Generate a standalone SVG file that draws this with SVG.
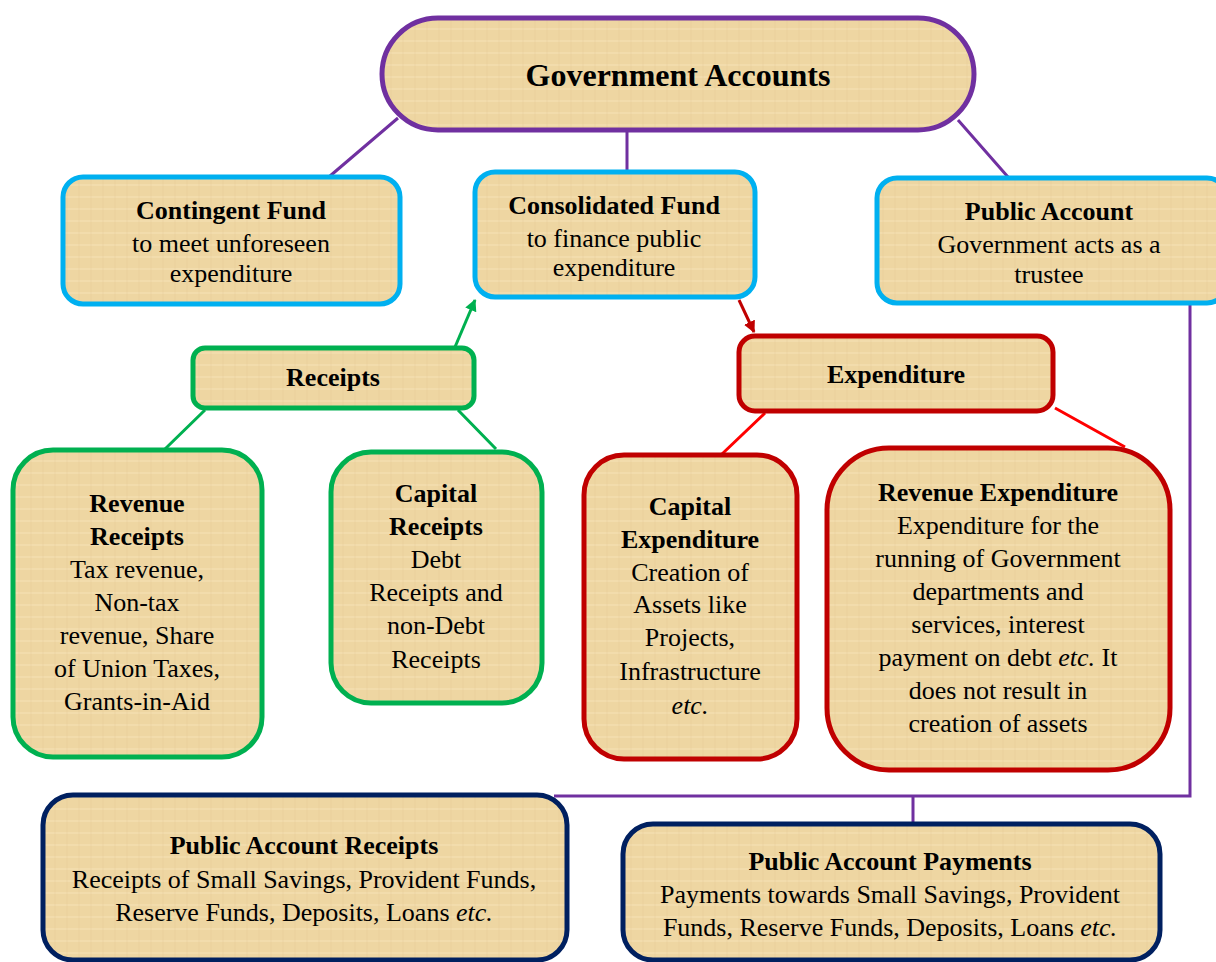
<svg xmlns="http://www.w3.org/2000/svg" width="1216" height="962" viewBox="0 0 1216 962">
<style>
svg g text, svg g tspan{font-family:'Liberation Serif',serif}
text{font-size:26px;text-anchor:middle}
.box{fill:url(#pap);stroke-width:5}
.pu{stroke:#7030A0}.bl{stroke:#00B0F0}.gr{stroke:#00B050}.rd{stroke:#C00000}.nv{stroke:#002060}
.b{font-weight:bold}
.t{font-size:32px;font-weight:bold}
.c{fill:none;stroke-width:3}
</style>
<defs>
<pattern id="pap" width="24" height="24" patternUnits="userSpaceOnUse">
<rect width="24" height="24" fill="#EED6A2"/>
<path d="M0 5H24M0 17H24" stroke="#F5E2B6" stroke-width="2" opacity="0.5"/>
<path d="M7 0V24M19 0V24" stroke="#DFC48D" stroke-width="1" opacity="0.3"/>
</pattern>
<marker id="agreen" viewBox="0 0 10 10" refX="9" refY="5" markerWidth="4" markerHeight="4" orient="auto" markerUnits="strokeWidth"><path d="M0 0L10 5L0 10Z" fill="#00B050"/></marker>
<marker id="ared" viewBox="0 0 10 10" refX="9" refY="5" markerWidth="4" markerHeight="4" orient="auto" markerUnits="strokeWidth"><path d="M0 0L10 5L0 10Z" fill="#C00000"/></marker>
</defs>
<g id="connectors">
<path class="c pu" d="M398 118L330 176M627 131V171M958 120L1008 177"/>
<path class="c pu" d="M1190 303V796H554M913 796V823"/>
<path class="c" stroke="#00B050" d="M455 347L475 300" marker-end="url(#agreen)"/>
<path class="c" stroke="#C00000" d="M739 300L754 332" marker-end="url(#ared)"/>
<path class="c" stroke="#00B050" d="M165 449L205 410M458 410L496 449"/>
<path class="c" stroke="#FF0000" d="M765 413L722 454M1055 408L1125 447"/>
</g>
<g id="government-accounts">
<rect class="box pu" x="382" y="18" width="592" height="112" rx="56" stroke-width="7"/>
<text style="font-family:'Liberation Serif'" class="t" x="678" y="86">Government Accounts</text>
</g>
<g id="contingent-fund">
<rect class="box bl" x="63" y="177" width="337" height="127" rx="20"/>
<text style="font-family:'Liberation Serif'" class="b" x="231" y="219">Contingent Fund</text>
<text style="font-family:'Liberation Serif'" x="231" y="252">to meet unforeseen</text>
<text style="font-family:'Liberation Serif'" x="231" y="282">expenditure</text>
</g>
<g id="consolidated-fund">
<rect class="box bl" x="475" y="172" width="280" height="125" rx="20"/>
<text style="font-family:'Liberation Serif'" class="b" x="614" y="214">Consolidated Fund</text>
<text style="font-family:'Liberation Serif'" x="614" y="247">to finance public</text>
<text style="font-family:'Liberation Serif'" x="614" y="276">expenditure</text>
</g>
<g id="public-account">
<rect class="box bl" x="877" y="178" width="350" height="125" rx="20"/>
<text style="font-family:'Liberation Serif'" class="b" x="1049" y="220">Public Account</text>
<text style="font-family:'Liberation Serif'" x="1049" y="253">Government acts as a</text>
<text style="font-family:'Liberation Serif'" x="1049" y="283">trustee</text>
</g>
<g id="receipts">
<rect class="box gr" x="193" y="348" width="281" height="60" rx="12"/>
<text style="font-family:'Liberation Serif'" class="b" x="333" y="386">Receipts</text>
</g>
<g id="expenditure">
<rect class="box rd" x="739" y="336" width="314" height="75" rx="16"/>
<text style="font-family:'Liberation Serif'" class="b" x="896" y="383">Expenditure</text>
</g>
<g id="revenue-receipts">
<rect class="box gr" x="13" y="450" width="249" height="307" rx="40"/>
<text style="font-family:'Liberation Serif'" class="b" x="137" y="512">Revenue</text>
<text style="font-family:'Liberation Serif'" class="b" x="137" y="545">Receipts</text>
<text style="font-family:'Liberation Serif'" x="137" y="578">Tax revenue,</text>
<text style="font-family:'Liberation Serif'" x="137" y="611">Non-tax</text>
<text style="font-family:'Liberation Serif'" x="137" y="644">revenue, Share</text>
<text style="font-family:'Liberation Serif'" x="137" y="677">of Union Taxes,</text>
<text style="font-family:'Liberation Serif'" x="137" y="710">Grants-in-Aid</text>
</g>
<g id="capital-receipts">
<rect class="box gr" x="331" y="452" width="211" height="251" rx="40"/>
<text style="font-family:'Liberation Serif'" class="b" x="436" y="502">Capital</text>
<text style="font-family:'Liberation Serif'" class="b" x="436" y="535">Receipts</text>
<text style="font-family:'Liberation Serif'" x="436" y="568">Debt</text>
<text style="font-family:'Liberation Serif'" x="436" y="601">Receipts and</text>
<text style="font-family:'Liberation Serif'" x="436" y="634">non-Debt</text>
<text style="font-family:'Liberation Serif'" x="436" y="668">Receipts</text>
</g>
<g id="capital-expenditure">
<rect class="box rd" x="584" y="455" width="213" height="304" rx="40"/>
<text style="font-family:'Liberation Serif'" class="b" x="690" y="515">Capital</text>
<text style="font-family:'Liberation Serif'" class="b" x="690" y="548">Expenditure</text>
<text style="font-family:'Liberation Serif'" x="690" y="581">Creation of</text>
<text style="font-family:'Liberation Serif'" x="690" y="613">Assets like</text>
<text style="font-family:'Liberation Serif'" x="690" y="646">Projects,</text>
<text style="font-family:'Liberation Serif'" x="690" y="680">Infrastructure</text>
<text style="font-family:'Liberation Serif';font-style:italic" x="690" y="714">etc.</text>
</g>
<g id="revenue-expenditure">
<rect class="box rd" x="827" y="448" width="343" height="322" rx="62"/>
<text style="font-family:'Liberation Serif'" class="b" x="998" y="501">Revenue Expenditure</text>
<text style="font-family:'Liberation Serif'" x="998" y="534">Expenditure for the</text>
<text style="font-family:'Liberation Serif'" x="998" y="567">running of Government</text>
<text style="font-family:'Liberation Serif'" x="998" y="600">departments and</text>
<text style="font-family:'Liberation Serif'" x="998" y="633">services, interest</text>
<text style="font-family:'Liberation Serif'" x="998" y="666">payment on debt <tspan style="font-family:'Liberation Serif';font-style:italic">etc.</tspan> It</text>
<text style="font-family:'Liberation Serif'" x="998" y="699">does not result in</text>
<text style="font-family:'Liberation Serif'" x="998" y="732">creation of assets</text>
</g>
<g id="public-account-receipts">
<rect class="box nv" x="43" y="795" width="524" height="165" rx="30"/>
<text style="font-family:'Liberation Serif'" class="b" x="304" y="854">Public Account Receipts</text>
<text style="font-family:'Liberation Serif'" x="304" y="888">Receipts of Small Savings, Provident Funds,</text>
<text style="font-family:'Liberation Serif'" x="304" y="921">Reserve Funds, Deposits, Loans <tspan style="font-family:'Liberation Serif';font-style:italic">etc.</tspan></text>
</g>
<g id="public-account-payments">
<rect class="box nv" x="623" y="824" width="537" height="136" rx="30"/>
<text style="font-family:'Liberation Serif'" class="b" x="890" y="870">Public Account Payments</text>
<text style="font-family:'Liberation Serif'" x="890" y="903">Payments towards Small Savings, Provident</text>
<text style="font-family:'Liberation Serif'" x="890" y="936">Funds, Reserve Funds, Deposits, Loans <tspan style="font-family:'Liberation Serif';font-style:italic">etc.</tspan></text>
</g>
</svg>
